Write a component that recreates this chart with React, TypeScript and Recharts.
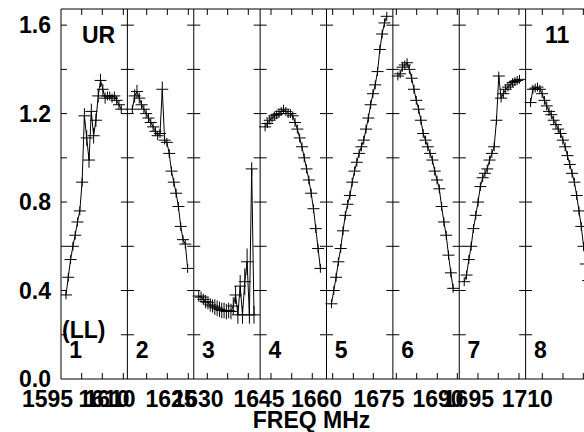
import React from 'react';
import { LineChart, Line, XAxis, YAxis, ReferenceLine, ErrorBar } from 'recharts';

// amplitude per channel, one array per IF panel
const P1_AMP = [0.38, 0.46, 0.54, 0.6, 0.65, 0.71, 0.76, 0.89, 1.19, 1.09, 0.99, 1.21, 1.1, 1.17, 1.28, 1.35, 1.31, 1.27, 1.28, 1.28, 1.27, 1.28, 1.26, 1.24, 1.22];
const P2_AMP = [1.22, 1.28, 1.3, 1.27, 1.24, 1.22, 1.2, 1.18, 1.16, 1.14, 1.12, 1.1, 1.11, 1.31, 1.08, 1.07, 1.02, 0.94, 0.89, 0.84, 0.78, 0.69, 0.63, 0.61, 0.5];
const P3_AMP = [0.375, 0.37, 0.36, 0.35, 0.345, 0.335, 0.33, 0.325, 0.32, 0.315, 0.31, 0.31, 0.305, 0.31, 0.305, 0.33, 0.38, 0.29, 0.42, 0.29, 0.44, 0.53, 0.29, 0.95, 0.29];
const P4_AMP = [1.14, 1.155, 1.17, 1.18, 1.19, 1.195, 1.2, 1.21, 1.22, 1.21, 1.2, 1.2, 1.19, 1.16, 1.13, 1.09, 1.05, 1.0, 0.95, 0.9, 0.84, 0.77, 0.68, 0.59, 0.5];
const P5_AMP = [0.34, 0.4, 0.46, 0.53, 0.59, 0.67, 0.74, 0.79, 0.83, 0.89, 0.94, 0.98, 1.02, 1.05, 1.08, 1.13, 1.18, 1.24, 1.29, 1.33, 1.39, 1.49, 1.56, 1.61, 1.64];
const P6_AMP = [1.37, 1.38, 1.41, 1.42, 1.43, 1.4, 1.36, 1.31, 1.26, 1.22, 1.17, 1.11, 1.08, 1.05, 1.02, 0.99, 0.94, 0.9, 0.86, 0.78, 0.71, 0.65, 0.56, 0.48, 0.41];
const P7_AMP = [0.44, 0.47, 0.54, 0.6, 0.68, 0.74, 0.8, 0.87, 0.91, 0.93, 0.95, 0.99, 1.02, 1.05, 1.17, 1.37, 1.27, 1.29, 1.31, 1.32, 1.33, 1.34, 1.345, 1.35, 1.355];
const P8_AMP = [1.25, 1.31, 1.315, 1.32, 1.31, 1.29, 1.26, 1.235, 1.21, 1.195, 1.17, 1.15, 1.13, 1.11, 1.08, 1.05, 1.01, 0.97, 0.93, 0.89, 0.83, 0.76, 0.69, 0.6, 0.52, 0.445];

// error bars (half height); panels without an array use BASE_ERR
const P1_ERR = [0.02, 0.02, 0.02, 0.02, 0.02, 0.02, 0.02, 0.02, 0.035, 0.035, 0.035, 0.035, 0.035, 0.03, 0.03, 0.03, 0.025, 0.025, 0.02, 0.02, 0.02, 0.02, 0.02, 0.02, 0.02];
const P2_ERR = [0.02, 0.03, 0.03, 0.025, 0.02, 0.02, 0.02, 0.02, 0.02, 0.02, 0.02, 0.02, 0.02, 0.035, 0.02, 0.02, 0.02, 0.02, 0.02, 0.02, 0.02, 0.02, 0.02, 0.02, 0.02];
const P3_ERR = [0.025, 0.025, 0.025, 0.03, 0.03, 0.03, 0.03, 0.035, 0.035, 0.035, 0.035, 0.035, 0.035, 0.035, 0.035, 0.04, 0.04, 0.04, 0.05, 0.04, 0.06, 0.06, 0.04, 0.03, 0.04];
const BASE_ERR = 0.02;

const PANEL_NAMES = ['1', '2', '3', '4', '5', '6', '7', '8'];
const PANEL_AMPS = [P1_AMP, P2_AMP, P3_AMP, P4_AMP, P5_AMP, P6_AMP, P7_AMP, P8_AMP];
const PANEL_ERRS: (number[] | null)[] = [P1_ERR, P2_ERR, P3_ERR, null, null, null, null, null];

// x axis is in panel units: panel p spans [p, p + 1]
const CHAN_OFFSET = 0.075;
const CHAN_STEP = 0.0347;

const Y_MAX = 1.673;
const Y_LABEL_TICKS = [0, 0.4, 0.8, 1.2, 1.6];
const Y_MINOR = [0.2, 0.4, 0.6, 0.8, 1.0, 1.2, 1.4, 1.6];

const X_TICK_MARKS = [0.312, 0.622, 0.939, 1.291, 1.602, 1.918, 2.204, 2.511, 2.822, 3.164, 3.476, 3.786, 4.093, 4.404, 4.705, 5.052, 5.359, 5.669, 5.971, 6.282, 6.588, 6.9, 7.251, 7.563, 7.869];
const X_LABELS = ['1595', '1610', '1610', '1625', '1630', '1645', '1660', '1675', '1690', '1695', '1710'];
const X_LABEL_POS = [-0.203, 0.648, 0.738, 1.657, 2.064, 2.983, 3.849, 4.791, 5.68, 6.138, 7.025];

const FONT = "'Liberation Sans', Arial, Helvetica, sans-serif";
const FS = 23;
const PLOT_LEFT = 61;
const PANEL_PX = 531 / 8;

const series = PANEL_AMPS.map((amps, p) =>
  amps.map((amp, j) => ({
    x: p + CHAN_OFFSET + j * CHAN_STEP,
    amp,
    err: PANEL_ERRS[p] ? (PANEL_ERRS[p] as number[])[j] : BASE_ERR,
  }))
);

const Cross = (props: any) => {
  const { cx, cy, index } = props;
  if (cx == null || cy == null) return <g key={`c-${index}`} />;
  return <line key={`c-${index}`} x1={cx - 6} x2={cx + 6} y1={cy} y2={cy} stroke="#000" strokeWidth={1} />;
};

const XLabel = (props: any) => {
  const { x, y, index } = props;
  return (
    <text x={x} y={y + 28} textAnchor="middle" fontFamily={FONT} fontWeight={700} fontSize={FS} fill="#000">
      {X_LABELS[index]}
    </text>
  );
};

const YLabel = (props: any) => {
  const { x, y, payload } = props;
  return (
    <text x={x - 10} y={y + 8} textAnchor="end" fontFamily={FONT} fontWeight={700} fontSize={FS} fill="#000">
      {Number(payload.value).toFixed(1)}
    </text>
  );
};

const textStyle = { fontFamily: FONT, fontWeight: 700, fontSize: FS, fill: '#000' } as const;

export default function App() {
  const dividers = [1, 2, 3, 4, 5, 6, 7];
  return (
    <div style={{ position: 'absolute', left: 0, top: 0, width: 584, height: 432, overflow: 'hidden', background: '#fff' }}>
      <LineChart width={600} height={432} margin={{ top: 9, right: 8, bottom: 23, left: 11 }}>
        <XAxis
          dataKey="x"
          type="number"
          domain={[0, 8]}
          allowDataOverflow
          ticks={X_LABEL_POS}
          interval={0}
          tickSize={0}
          tickMargin={0}
          height={30}
          axisLine={{ stroke: '#000' }}
          tickLine={false}
          tick={XLabel}
        />
        <YAxis
          type="number"
          domain={[0, Y_MAX]}
          allowDataOverflow
          ticks={Y_LABEL_TICKS}
          interval={0}
          width={50}
          tickSize={0}
          tickMargin={0}
          axisLine={{ stroke: '#000' }}
          tickLine={false}
          tick={YLabel}
        />
        <ReferenceLine y={Y_MAX} stroke="#000" />
        {dividers.map((d) => (
          <ReferenceLine key={`div-${d}`} x={d} stroke="#000" />
        ))}
        {dividers.flatMap((d) =>
          Y_MINOR.map((v) => (
            <ReferenceLine key={`dt-${d}-${v}`} segment={[{ x: d - 0.098, y: v }, { x: d + 0.098, y: v }]} stroke="#000" />
          ))
        )}
        {Y_MINOR.map((v) => (
          <ReferenceLine key={`lt-${v}`} segment={[{ x: 0, y: v }, { x: 0.09, y: v }]} stroke="#000" />
        ))}
        {X_TICK_MARKS.map((t) => (
          <ReferenceLine key={`bt-${t}`} segment={[{ x: t, y: 0 }, { x: t, y: 0.027 }]} stroke="#000" />
        ))}
        {X_TICK_MARKS.map((t) => (
          <ReferenceLine key={`tt-${t}`} segment={[{ x: t, y: Y_MAX }, { x: t, y: Y_MAX - 0.027 }]} stroke="#000" />
        ))}
        {series.map((data, p) => (
          <Line
            key={`if-${p}`}
            data={data}
            dataKey="amp"
            type="linear"
            stroke="#000"
            strokeWidth={1}
            dot={Cross}
            activeDot={false}
            isAnimationActive={false}
          >
            <ErrorBar dataKey="err" direction="y" width={0} stroke="#000" strokeWidth={1} isAnimationActive={false} />
          </Line>
        ))}
      </LineChart>
      <svg width={584} height={432} style={{ position: 'absolute', left: 0, top: 0, pointerEvents: 'none' }}>
        <text x={82} y={43} {...textStyle}>UR</text>
        <text x={545} y={43} {...textStyle}>11</text>
        <text x={62} y={338} {...textStyle}>(LL)</text>
        {PANEL_NAMES.map((name, p) => (
          <text key={name} x={PLOT_LEFT + p * PANEL_PX + 8.3} y={358} {...textStyle}>
            {name}
          </text>
        ))}
        <text x={311.5} y={428} textAnchor="middle" {...textStyle}>FREQ MHz</text>
      </svg>
    </div>
  );
}
